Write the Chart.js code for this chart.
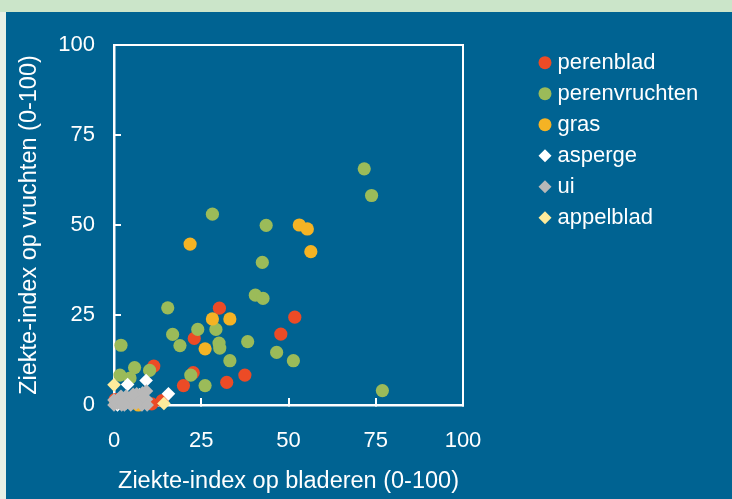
<!DOCTYPE html>
<html><head><meta charset="utf-8">
<script src="https://cdn.jsdelivr.net/npm/chart.js@4.4.0/dist/chart.umd.min.js"></script>
<style>
html,body{margin:0;padding:0;width:732px;height:499px;overflow:hidden}
body{background:
  linear-gradient(#cbe5c9,#cbe5c9) 0 0/732px 12px no-repeat,
  linear-gradient(#e8f0e6,#e8f0e6) 0 12px/6px 487px no-repeat,
  #006392;}
canvas{position:absolute;left:0;top:0}
</style></head>
<body><canvas id="c" width="732" height="499"></canvas>
<script>
// ---- data ----
const seriesNames = ['perenblad','perenvruchten','gras','asperge','ui','appelblad'];
const xTickValues = [0,25,50,75,100];
const yTickValues = [0,25,50,75,100];
const xTitle = 'Ziekte-index op bladeren (0-100)';
const yTitle = 'Ziekte-index op vruchten (0-100)';

const perenbladX = [30.2, 51.8, 23.0, 47.8, 11.4, 22.7, 37.5, 19.9, 32.3, 13.8, 10.8, 0.3];
const perenbladY = [26.9, 24.4, 18.5, 19.7, 10.8, 9.0, 8.3, 5.4, 6.3, 1.2, 0.3, 1.5];

const perenvruchtenX = [71.7, 73.8, 28.2, 43.6, 42.5, 40.5, 42.7, 15.4, 24.0, 29.2, 16.8, 2.0, 18.9, 30.1, 30.3, 38.3, 46.6, 51.4, 33.2, 10.2, 5.9, 1.7, 4.6, 22.0, 26.1, 76.9, 0.5];
const perenvruchtenY = [65.6, 58.2, 53.0, 49.9, 39.6, 30.5, 29.6, 27.0, 21.0, 21.0, 19.6, 16.6, 16.5, 17.2, 15.8, 17.6, 14.6, 12.3, 12.3, 9.6, 10.4, 8.3, 7.5, 8.3, 5.4, 4.0, 0.5];

const grasX = [21.8, 53.1, 55.4, 56.4, 28.2, 33.2, 26.1, 7.0];
const grasY = [44.7, 50.0, 48.9, 42.6, 23.9, 23.9, 15.6, 0.0];

const aspergeX = [3.9, 9.2, 15.6, 3.5, 7.3, 1.0];
const aspergeY = [5.7, 6.8, 3.1, 0.6, 2.8, 0.0];

const uiX = [0.0, 0.0, 1.0, 2.0, 2.2, 3.5, 3.5, 4.8, 5.2, 6.5, 6.3, 7.5, 8.0, 9.3, 9.3, 9.5, 8.2, 5.5, 1.2, 3.0];
const uiY = [1.4, 0.0, 0.5, 2.4, 0.0, 2.5, 0.8, 0.0, 1.8, 3.1, 0.4, 1.8, 0.0, 3.9, 1.6, 0.0, 3.4, 3.0, 1.6, 0.0];

const appelbladX = [0.0, 14.3];
const appelbladY = [5.6, 0.4];

// ---- styles ----
const FONT = "'Liberation Sans', Arial, sans-serif";
const WHITE = '#ffffff';
const colors = ['#ec4b26', '#9bbb59', '#f5b324', '#ffffff', '#b8b8b8', '#fdeb9c'];
const styles = ['circle','circle','circle','rectRot','rectRot','rectRot'];
const radii = [6.6, 6.6, 6.6, 6.8, 6.8, 6.8];
const xs = [perenbladX, perenvruchtenX, grasX, aspergeX, uiX, appelbladX];
const ys = [perenbladY, perenvruchtenY, grasY, aspergeY, uiY, appelbladY];

function pts(a, b){ return a.map((x,i)=>({x:x, y:b[i]})); }

const datasets = seriesNames.map((name,i)=>({
  label: name,
  data: pts(xs[i], ys[i]),
  pointStyle: styles[i],
  pointRadius: radii[i],
  pointHoverRadius: radii[i],
  backgroundColor: colors[i],
  borderColor: colors[i],
  borderWidth: 0,
  pointBorderWidth: 0,
  showLine: false,
  clip: false,
  order: seriesNames.length - i
}));

// legend geometry: item x = chartRight(463) + gap + padding
const LEG_FONT = 22, LEG_PAD = 9, LEG_BOX = 3;
const mctx = document.createElement('canvas').getContext('2d');
mctx.font = 'normal ' + LEG_FONT + 'px ' + FONT;
const maxTextW = Math.max.apply(null, seriesNames.map(n => mctx.measureText(n).width));
const legendW = LEG_PAD + LEG_BOX + LEG_FONT / 2 + maxTextW + 10;
const GAP = 71.5;
const padRight = 732 - 463 - GAP - legendW;

const tickFont = {family: FONT, size: 22};
const titleFont = {family: FONT, size: 23.5};

new Chart(document.getElementById('c'), {
  type: 'scatter',
  data: {datasets: datasets},
  options: {
    responsive: false,
    animation: false,
    events: [],
    layout: {padding: {top: 42.7, left: 0, right: padRight, bottom: 0}},
    plugins: {
      tooltip: {enabled: false},
      legend: {
        position: 'right', align: 'start', maxWidth: 400,
        labels: {
          usePointStyle: true, boxWidth: LEG_BOX, boxHeight: 9.2, padding: LEG_PAD,
          color: WHITE, font: {family: FONT, size: LEG_FONT},
          sort: (a,b) => a.datasetIndex - b.datasetIndex
        }
      }
    },
    scales: {
      x: {
        type: 'linear', position: 'bottom', min: 0, max: 100,
        afterBuildTicks: s => { s.ticks = xTickValues.map(v => ({value: v})); },
        ticks: {color: WHITE, font: tickFont, padding: 30, maxRotation: 0, autoSkip: false},
        grid: {display: true, drawOnChartArea: false, drawTicks: true, tickLength: -7, color: WHITE, lineWidth: 2},
        border: {display: true, color: WHITE, width: 2.5},
        title: {display: true, text: xTitle, color: WHITE, font: titleFont, padding: {top: 0, bottom: 3.6}},
        afterFit: s => { s.height = 94; }
      },
      y: {
        type: 'linear', position: 'left', min: 0, max: 100,
        afterBuildTicks: s => { s.ticks = yTickValues.map(v => ({value: v})); },
        ticks: {color: WHITE, font: tickFont, padding: 26, autoSkip: false},
        grid: {display: true, drawOnChartArea: false, drawTicks: true, tickLength: -7, color: WHITE, lineWidth: 2},
        border: {display: true, color: WHITE, width: 2.5},
        title: {display: true, text: yTitle, color: WHITE, font: titleFont, padding: {top: 15.4, bottom: 0}},
        afterFit: s => { s.width = 114; }
      },
      xTop: {
        type: 'linear', position: 'top', display: true,
        ticks: {display: false}, grid: {display: false},
        border: {display: true, color: WHITE, width: 2},
        afterFit: s => { s.height = 2.3; }
      },
      yRight: {
        type: 'linear', position: 'right', display: true,
        ticks: {display: false}, grid: {display: false},
        border: {display: true, color: WHITE, width: 2},
        afterFit: s => { s.width = GAP; }
      }
    }
  }
});
</script>
</body></html>
